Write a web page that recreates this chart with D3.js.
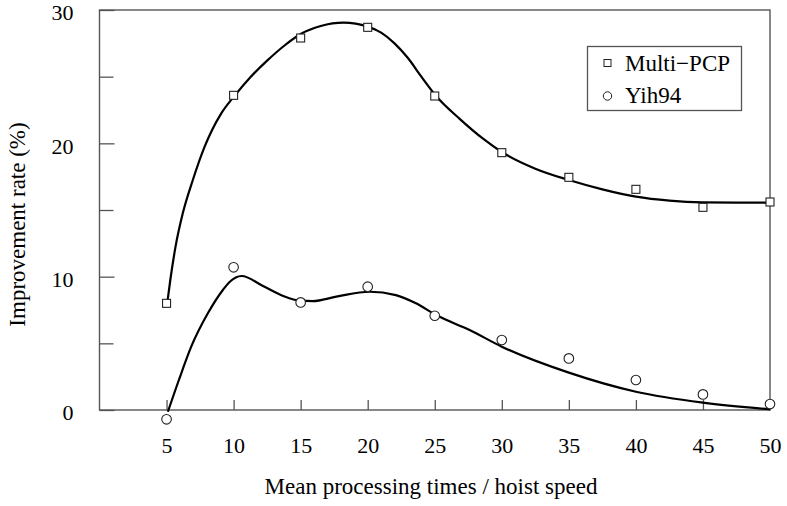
<!DOCTYPE html>
<html>
<head>
<meta charset="utf-8">
<script src="https://cdn.jsdelivr.net/npm/d3@7"></script>
</head>
<body style="margin:0;background:#fff">
<svg id="chart" width="787" height="506" style="display:block"></svg>
<script>
// ---- data ----
const xCategories = [5, 10, 15, 20, 25, 30, 35, 40, 45, 50];
const multiPCP = [8.0, 23.6, 27.9, 28.7, 23.55, 19.3, 17.45, 16.55, 15.2, 15.6];
const yih94 = [-0.7, 10.7, 8.07, 9.25, 7.07, 5.25, 3.87, 2.25, 1.17, 0.45];

// fitted curves
const multiFitX = [5.05, 5.28, 5.67, 6.21, 6.96, 7.84, 9.08, 10.1, 11.2, 12.5, 13.75, 15, 16.5, 18.2, 20, 21, 22, 23, 24, 25.1, 26.9, 28.6, 30, 32.5, 35, 37.5, 40, 42.5, 45, 47.5, 50];
const multiFitY = [8.0, 9.75, 12.25, 14.75, 17.25, 19.75, 22.25, 23.6, 24.9, 26.2, 27.3, 28.2, 28.8, 29.05, 28.75, 28.3, 27.5, 26.4, 25.0, 23.55, 21.8, 20.35, 19.35, 18.1, 17.25, 16.55, 16.0, 15.7, 15.57, 15.55, 15.55];
const yihFitX = [5.1, 5.92, 6.84, 8.08, 9.2, 9.7, 10.6, 12.19, 13.7, 14.93, 15.9, 17.66, 20.15, 22.1, 23.6, 25.1, 27.6, 30, 35, 40, 45, 50];
const yihFitY = [-0.13, 2.25, 4.75, 7.25, 9.0, 9.6, 10.05, 9.3, 8.55, 8.2, 8.17, 8.5, 8.87, 8.62, 8.0, 7.12, 6.0, 4.75, 2.8, 1.37, 0.55, 0.05];

const yMajorTicks = [0, 10, 20, 30];
const yMinorTicks = [5, 15, 25];
const seriesNames = ["Multi\u2212PCP", "Yih94"];
const xTitle = "Mean processing times / hoist speed";
const yTitle = "Improvement rate (%)";

// ---- layout ----
const svg = d3.select("#chart");
const plotLeft = 99.5, plotRight = 770, plotTop = 10, plotBottom = 410;
const x = d3.scaleLinear().domain([0, 50]).range([plotLeft, plotRight]);
const y = d3.scaleLinear().domain([0, 30]).range([plotBottom, plotTop]);
const frameColor = "#555";
const FONT = '"Liberation Serif"';

// frame
svg.append("rect")
  .attr("x", plotLeft).attr("y", plotTop)
  .attr("width", plotRight - plotLeft).attr("height", plotBottom - plotTop)
  .attr("fill", "none").attr("stroke", frameColor).attr("stroke-width", 1.4);

// y axis (ticks inward)
const yAxis = d3.axisLeft(y).tickValues(yMajorTicks).tickSize(-15).tickPadding(26)
  .tickFormat(d3.format("d"));
const gy = svg.append("g").attr("transform", `translate(${plotLeft},0)`).call(yAxis);
gy.select(".domain").remove();
gy.selectAll(".tick line").attr("stroke", frameColor).attr("stroke-width", 1.3);
gy.selectAll(".tick text").style("font-family", FONT).style("font-size", "22px")
  .attr("dy", "0.45em").attr("fill", "#000");

const yMinor = d3.axisLeft(y).tickValues(yMinorTicks).tickSize(-14).tickFormat("");
const gym = svg.append("g").attr("transform", `translate(${plotLeft},0)`).call(yMinor);
gym.select(".domain").remove();
gym.selectAll(".tick line").attr("stroke", frameColor).attr("stroke-width", 1.3);

// x axis (ticks inward)
const xAxis = d3.axisBottom(x).tickValues(xCategories).tickSize(-10).tickPadding(30)
  .tickFormat(d3.format("d"));
const gx = svg.append("g").attr("transform", `translate(0,${plotBottom})`).call(xAxis);
gx.select(".domain").remove();
gx.selectAll(".tick line").attr("stroke", frameColor).attr("stroke-width", 1.3);
gx.selectAll(".tick text").style("font-family", FONT).style("font-size", "22px")
  .attr("dy", "0").attr("fill", "#000").attr("y", 43);

// titles
svg.append("text").attr("x", 431).attr("y", 494).attr("text-anchor", "middle")
  .style("font-family", FONT).style("font-size", "23px").text(xTitle);
svg.append("text").attr("transform", "translate(25,224.5) rotate(-90)")
  .attr("text-anchor", "middle")
  .style("font-family", FONT).style("font-size", "23px").text(yTitle);

// curves
const line = d3.line().x(d => x(d[0])).y(d => y(d[1])).curve(d3.curveMonotoneX);
const multiFit = multiFitX.map((v, i) => [v, multiFitY[i]]);
const yihFit = yihFitX.map((v, i) => [v, yihFitY[i]]);
[multiFit, yihFit].forEach(pts => {
  svg.append("path").attr("d", line(pts)).attr("fill", "none")
    .attr("stroke", "#000").attr("stroke-width", 2.2);
});

// markers
const sq = 8;
svg.append("g").selectAll("rect").data(xCategories).join("rect")
  .attr("x", (d) => x(d) - sq / 2)
  .attr("y", (d, i) => y(multiPCP[i]) - sq / 2)
  .attr("width", sq).attr("height", sq)
  .attr("fill", "#fff").attr("stroke", "#222").attr("stroke-width", 1.1);
svg.append("g").selectAll("circle").data(xCategories).join("circle")
  .attr("cx", (d) => x(d))
  .attr("cy", (d, i) => y(yih94[i]))
  .attr("r", 4.8)
  .attr("fill", "#fff").attr("stroke", "#222").attr("stroke-width", 1.1);

// legend
const lg = svg.append("g");
lg.append("rect").attr("x", 587.5).attr("y", 46.5).attr("width", 154).attr("height", 64)
  .attr("fill", "#fff").attr("stroke", frameColor).attr("stroke-width", 1.3);
lg.append("rect").attr("x", 604).attr("y", 59.5).attr("width", 7).attr("height", 7)
  .attr("fill", "#fff").attr("stroke", "#222").attr("stroke-width", 1);
lg.append("circle").attr("cx", 607.5).attr("cy", 96).attr("r", 4.2)
  .attr("fill", "#fff").attr("stroke", "#222").attr("stroke-width", 1);
lg.append("text").attr("x", 625).attr("y", 70.5)
  .style("font-family", FONT).style("font-size", "23px").text(seriesNames[0]);
lg.append("text").attr("x", 625).attr("y", 103)
  .style("font-family", FONT).style("font-size", "23px").text(seriesNames[1]);
</script>
</body>
</html>
